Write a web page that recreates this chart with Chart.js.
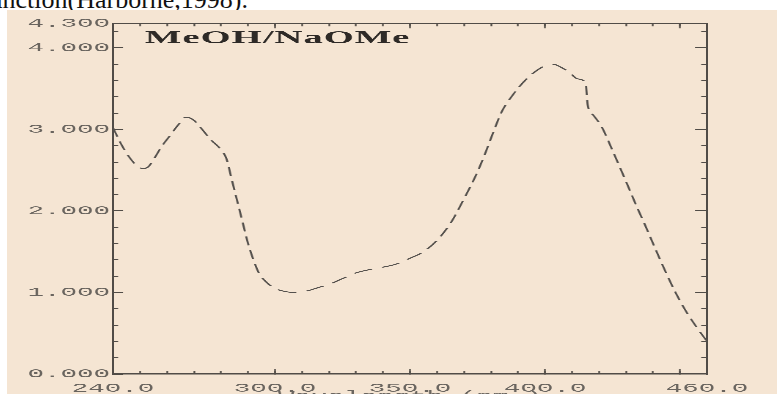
<!DOCTYPE html>
<html lang="en">
<head>
<meta charset="UTF-8">
<title>MeOH/NaOMe</title>
<script src="https://cdn.jsdelivr.net/npm/chart.js"></script>
<style>
    html, body { margin: 0; padding: 0; width: 777px; height: 394px; overflow: hidden; background: #fff; }
    #caption {
        position: absolute; right: 529px; top: -13px;
        font: 26px "Liberation Serif", serif; line-height: 1;
        color: #111; white-space: nowrap;
    }
    #paper { position: absolute; left: 7px; top: 10px; right: 0; bottom: 0; background: #f5e5d3; }
    /* the plotter output is wide: draw narrow, then stretch sideways */
    #plot { position: absolute; left: 0; top: 0; width: 350px; height: 400px; transform: scaleX(2.2); transform-origin: 0 0; }
</style>
</head>
<body>
<div id="caption">function(Harborne,1998).</div>
<div id="paper">
    <div id="plot"><canvas id="spectrum" width="350" height="400"></canvas></div>
</div>

<script>
    // spectrum
    const wavelength = [240, 243, 246, 249, 251, 253, 255, 258, 261, 264,
                        267, 270, 273, 276, 280, 282, 284, 286, 288, 290,
                        292, 294, 297, 300, 304, 308, 312, 316, 320, 325,
                        330, 335, 340, 345, 350, 355, 360, 365, 370, 375,
                        378, 381, 384, 388, 392, 396, 400, 403, 406, 409,
                        412, 415, 415.8, 418, 421, 425, 430, 434, 437, 440,
                        444, 448, 452, 456, 460];
    const absorbance = [3.02, 2.82, 2.66, 2.55, 2.52, 2.54, 2.63, 2.79, 2.92, 3.05,
                        3.15, 3.11, 3.00, 2.88, 2.75, 2.64, 2.38, 2.12, 1.86, 1.60,
                        1.40, 1.24, 1.12, 1.05, 1.01, 1.00, 1.02, 1.06, 1.10, 1.17,
                        1.24, 1.28, 1.31, 1.35, 1.42, 1.50, 1.64, 1.85, 2.15, 2.48,
                        2.72, 2.98, 3.22, 3.42, 3.58, 3.70, 3.78, 3.80, 3.76, 3.70,
                        3.62, 3.57, 3.30, 3.17, 3.03, 2.74, 2.36, 2.05, 1.83, 1.60,
                        1.30, 1.02, 0.78, 0.58, 0.40];

    const xLabelTicks = [240, 300, 350, 400, 450, 460];
    const xMajorTicks = [300, 350, 400, 450];
    const xMinorTicks = [250, 260, 270, 280, 290, 300, 310, 320, 330, 340, 350,
                         360, 370, 380, 390, 400, 410, 420, 430, 440, 450];
    const yLabelTicks = [0, 1, 2, 3, 4, 4.3];
    const yMajorTicks = [1, 2, 3, 4];
    const yMinorTicks = [0.2, 0.4, 0.6, 0.8, 1.0, 1.2, 1.4, 1.6, 1.8, 2.0, 2.2,
                         2.4, 2.6, 2.8, 3.0, 3.2, 3.4, 3.6, 3.8, 4.0, 4.2];

    const X_MIN = 240, X_MAX = 460, Y_MIN = 0, Y_MAX = 4.3;
    const INK = '#514c47';
    const LABEL_INK = '#6a655f';
    const MONO = { family: '"Liberation Mono", monospace', size: 12.5 };

    function fixedTicks(values) {
        return scale => { scale.ticks = values.map(v => ({ value: v })); };
    }
    function fixedSize(size) {
        return scale => {
            if (scale.isHorizontal()) scale.height = size;
            else scale.width = size;
        };
    }

    // axis that only draws inward tick marks (and optionally the frame line)
    function tickAxis(position, values, size, tickLength, weight, frame) {
        const horizontal = position === 'top' || position === 'bottom';
        return {
            type: 'linear',
            position: position,
            min: horizontal ? X_MIN : Y_MIN,
            max: horizontal ? X_MAX : Y_MAX,
            weight: weight,
            afterBuildTicks: fixedTicks(values),
            afterFit: fixedSize(size),
            ticks: { display: false },
            grid: { drawOnChartArea: false, tickLength: tickLength, tickColor: INK, tickWidth: horizontal ? 0.8 : 1 },
            border: { display: frame, color: INK, width: horizontal ? 1.2 : 1 }
        };
    }

    const titlePlugin = {
        id: 'sampleTitle',
        afterDraw(chart) {
            const ctx = chart.ctx;
            ctx.save();
            ctx.font = 'bold 17.5px "Liberation Serif", serif';
            ctx.letterSpacing = '0.5px';
            ctx.fillStyle = '#2e2a27';
            ctx.textBaseline = 'alphabetic';
            ctx.fillText('MeOH/NaOMe', 62.7, 33);
            ctx.restore();
        }
    };

    const points = wavelength.map((w, i) => ({ x: w, y: absorbance[i] }));

    new Chart(document.getElementById('spectrum'), {
        type: 'line',
        data: {
            datasets: [{
                data: points,
                xAxisID: 'x',
                yAxisID: 'y',
                borderColor: '#55514d',
                borderWidth: 0.95,
                borderDash: [9, 5],
                pointRadius: 0,
                fill: false,
                cubicInterpolationMode: 'monotone'
            }]
        },
        options: {
            responsive: false,
            devicePixelRatio: 3,
            animation: false,
            layout: { padding: 0, autoPadding: false },
            plugins: { legend: { display: false }, tooltip: { enabled: false } },
            scales: {
                x: {
                    type: 'linear', position: 'bottom', min: X_MIN, max: X_MAX, weight: 1,
                    afterBuildTicks: fixedTicks(xLabelTicks),
                    afterFit: fixedSize(36),
                    ticks: {
                        autoSkip: false, maxRotation: 0, padding: 12,
                        color: LABEL_INK, font: MONO,
                        callback: v => v === 450 ? '' : v.toFixed(1)
                    },
                    grid: { drawOnChartArea: false, tickLength: -5, tickColor: INK, tickWidth: 0.8 },
                    border: { color: INK, width: 1.2 },
                    title: {
                        display: true, text: 'Wavelength (nm )', color: LABEL_INK, font: MONO,
                        padding: { top: 0, bottom: 6.5 }
                    }
                },
                xMin: tickAxis('bottom', xMinorTicks, 0, -3, 0, false),
                xTop: tickAxis('top', xMajorTicks, 5, -5, 1, true),
                xTopMin: tickAxis('top', xMinorTicks, 0, -3, 0, false),
                y: {
                    type: 'linear', position: 'left', min: Y_MIN, max: Y_MAX, weight: 1,
                    afterBuildTicks: fixedTicks(yLabelTicks),
                    afterFit: fixedSize(48.2),
                    ticks: {
                        autoSkip: false, padding: 5.9,
                        color: LABEL_INK, font: MONO,
                        callback: v => v.toFixed(3)
                    },
                    grid: { drawOnChartArea: false, tickLength: -4.5, tickColor: INK, tickWidth: 1 },
                    border: { color: INK, width: 1 }
                },
                yMin: tickAxis('left', yMinorTicks, 0, -2.3, 0, false),
                yRight: tickAxis('right', yMajorTicks, 31.8, -5.5, 1, true),
                yRightMin: tickAxis('right', yMinorTicks, 0, -2.7, 0, false)
            }
        },
        plugins: [titlePlugin]
    });
</script>
</body>
</html>
